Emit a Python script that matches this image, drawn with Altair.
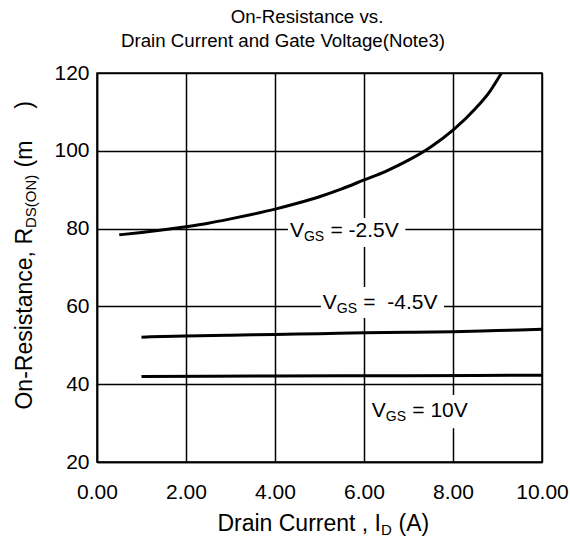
import altair as alt
import pandas as pd

NB = "\u00a0"

# ---------------- data ----------------
x_m25 = [0.5, 1.0, 1.5, 2.0, 2.5, 3.0, 3.5, 4.0, 4.5, 5.0, 5.5, 6.0, 6.5, 7.0, 7.5, 8.0, 8.5, 8.83, 9.09]
r_m25 = [78.4, 79.0, 79.7, 80.5, 81.4, 82.5, 83.7, 85.0, 86.5, 88.2, 90.2, 92.5, 94.8, 97.6, 101.0, 105.3, 110.8, 115.3, 120.0]
x_m45 = [1.0, 2.0, 3.0, 4.0, 5.0, 6.0, 7.0, 8.0, 9.0, 10.0]
r_m45 = [52.1, 52.4, 52.6, 52.8, 53.0, 53.2, 53.35, 53.5, 53.8, 54.1]
x_10 = [1.0, 4.0, 7.0, 10.0]
r_10 = [42.0, 42.1, 42.2, 42.3]

x_ticks = [0, 2, 4, 6, 8, 10]
y_ticks = [20, 40, 60, 80, 100, 120]

label_main = ["V", "V", "V"]
label_sub = ["GS", "GS", "GS"]
label_rest = ["=" + NB + "-2.5V", "=" + NB + NB + "-4.5V", "=" + NB + "10V"]
label_x = [4.65, 5.39, 6.49]
label_y = [77.85, 59.3, 31.5]
box_x1 = [4.29, 5.03, 6.13]
box_x2 = [6.93, 7.80, 8.49]
box_y1 = [75.3, 57.0, 28.7]
box_y2 = [82.7, 65.0, 37.2]

title_1 = "On-Resistance vs."
title_2 = "Drain Current and Gate Voltage(Note3)"
xt_main, xt_sub, xt_rest = "Drain Current , I", "D", "(A)"
yt_main, yt_sub, yt_rest = "On-Resistance, R", "DS(ON)", "(m" + NB * 5 + ")"

FONT = "Liberation Sans"

curves = pd.concat([
    pd.DataFrame({"id": x_m25, "r": r_m25, "s": "-2.5V"}),
    pd.DataFrame({"id": x_m45, "r": r_m45, "s": "-4.5V"}),
    pd.DataFrame({"id": x_10, "r": r_10, "s": "10V"}),
])
labels = pd.DataFrame({"x": label_x, "y": label_y, "m": label_main, "sub": label_sub, "rest": label_rest})
boxes = pd.DataFrame({"x1": box_x1, "x2": box_x2, "y1": box_y1, "y2": box_y2})

xs = alt.Scale(domain=[0, 10], nice=False, zero=False)
ys = alt.Scale(domain=[20, 120], nice=False, zero=False)

x_axis = alt.Axis(values=x_ticks, format=".2f", title=None, grid=True, gridColor="black",
                  gridWidth=1.5, gridOpacity=1, domainColor="black", domainWidth=1.5, ticks=False,
                  labelFont=FONT, labelFontSize=21, labelColor="black", labelPadding=19,
                  labelFlush=False, labelOverlap=False)
y_axis = alt.Axis(values=y_ticks, title=None, grid=True, gridColor="black",
                  gridWidth=1.5, gridOpacity=1, domainColor="black", domainWidth=1.5, ticks=False,
                  labelFont=FONT, labelFontSize=21, labelColor="black", labelPadding=8,
                  labelFlush=False, labelOverlap=False)

rects = alt.Chart(boxes).mark_rect(color="white", opacity=1).encode(
    x=alt.X("x1:Q", scale=xs, axis=x_axis), x2="x2:Q",
    y=alt.Y("y1:Q", scale=ys, axis=y_axis), y2="y2:Q",
)

lines = alt.Chart(curves).mark_line(color="black", strokeWidth=3, interpolate="monotone").encode(
    x=alt.X("id:Q", scale=xs), y=alt.Y("r:Q", scale=ys), detail="s:N"
)

tbase = alt.Chart(labels).encode(x=alt.X("x:Q", scale=xs), y=alt.Y("y:Q", scale=ys))
t_main = tbase.mark_text(font=FONT, fontSize=21, align="right", baseline="alphabetic", color="black").encode(text="m:N")
t_sub = tbase.mark_text(font=FONT, fontSize=14, align="left", baseline="alphabetic", dy=4, color="black").encode(text="sub:N")
t_rest = tbase.mark_text(font=FONT, fontSize=21, align="left", baseline="alphabetic", dx=26.5, color="black").encode(text="rest:N")


def ptext(txt, x, y, size, align="center", angle=0, dx=0, dy=0):
    return alt.Chart(pd.DataFrame({"t": [txt]})).mark_text(
        font=FONT, fontSize=size, align=align, baseline="alphabetic", angle=angle,
        dx=dx, dy=dy, color="black"
    ).encode(x=alt.value(x), y=alt.value(y), text="t:N")


titles = [
    ptext(title_1, 210, -50, 18.7),
    ptext(title_2, 186, -26, 18.7),
    # x axis title
    ptext(xt_main, 284, 458, 23, align="right"),
    ptext(xt_sub, 284, 458, 15, align="left", dy=4),
    ptext(xt_rest, 284, 458, 23, align="left", dx=17.5),
    # y axis title (rotated)
    ptext(yt_main, -65, 155, 23, align="right", angle=270),
    ptext(yt_sub, -65, 155, 15, align="left", angle=270, dy=4),
    ptext(yt_rest, -65, 155, 23, align="left", angle=270, dx=60.5),
]

chart = alt.layer(rects, lines, t_main, t_sub, t_rest, *titles).properties(
    width=445, height=389,
    autosize=alt.AutoSizeParams(type="none"),
    padding={"left": 97, "top": 73, "right": 28, "bottom": 79},
    background="white",
).configure_view(stroke="black", strokeWidth=1.5)

chart.save("out.html", embed_options={"renderer": "svg", "actions": False})
